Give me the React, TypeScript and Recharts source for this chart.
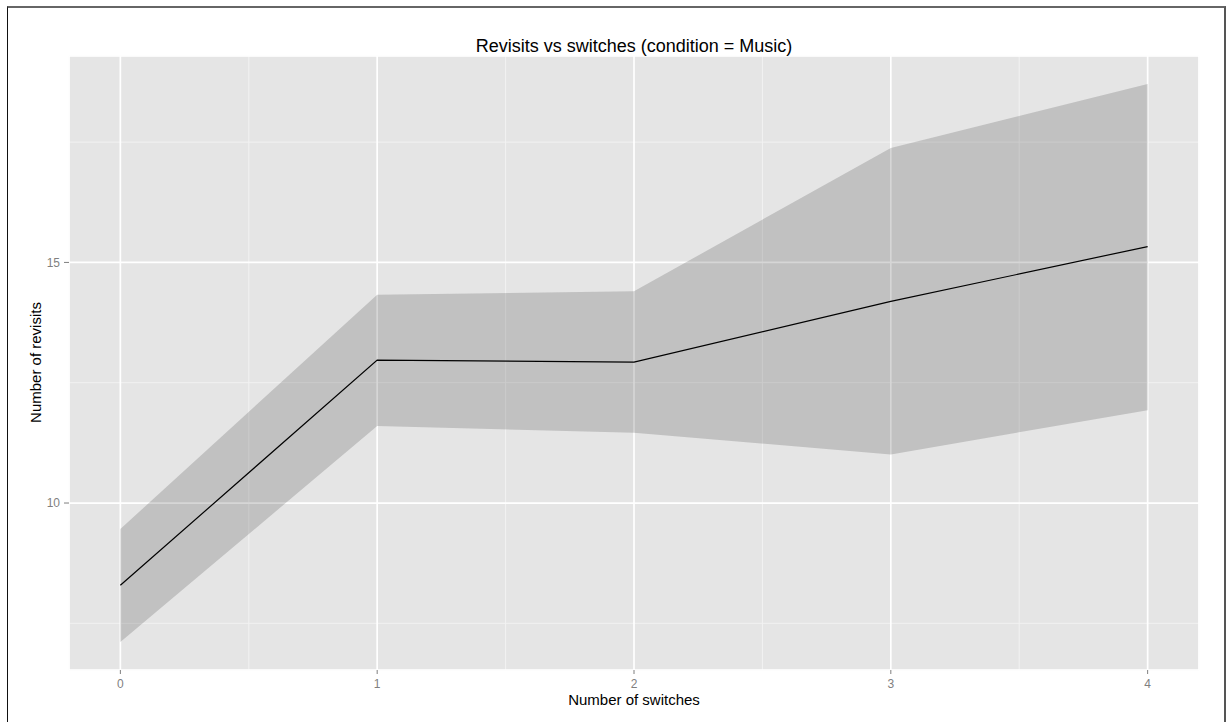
import { ComposedChart, Area, Line, XAxis, YAxis, CartesianGrid } from 'recharts'

// values
const switches = [0, 1, 2, 3, 4]
const meanRevisits = [8.29, 12.97, 12.93, 14.19, 15.33]
const lowerBand = [7.11, 11.6, 11.46, 11.01, 11.93]
const upperBand = [9.46, 14.33, 14.4, 17.38, 18.71]

const xTicks = [0, 1, 2, 3, 4]
const yTicks = [10, 15]
const xMinorTicks = [0.5, 1.5, 2.5, 3.5]
const yMinorTicks = [7.5, 12.5, 17.5]

const X_DOMAIN: [number, number] = [-0.2, 4.2]
const Y_DOMAIN: [number, number] = [6.53, 19.29]

const FONT = '"Liberation Sans", Arial, Helvetica, sans-serif'
const GREY = '#7F7F7F'

const data = switches.map((x, i) => ({
  x,
  mean: meanRevisits[i],
  band: [lowerBand[i], upperBand[i]],
}))

export default function App() {
  return (
    <div
      style={{
        position: 'absolute',
        left: 0,
        top: 0,
        width: 1226,
        height: 722,
        background: '#fff',
        fontFamily: FONT,
        overflow: 'hidden',
      }}
    >
      {/* outer frame */}
      <div
        style={{
          position: 'absolute',
          left: 7,
          top: 6,
          width: 1216,
          height: 730,
          borderTop: '2px solid #666',
          borderLeft: '1px solid #111',
          borderRight: '2px solid #555',
        }}
      />

      <div style={{ position: 'absolute', left: 0, top: 0 }}>
        <ComposedChart
          width={1226}
          height={722}
          data={data}
          margin={{ top: 56, right: 27, bottom: 22, left: 0 }}
        >
          {/* hidden axes that only feed the minor grid */}
          <XAxis xAxisId="minor" type="number" dataKey="x" domain={X_DOMAIN} ticks={xMinorTicks} hide />
          <YAxis yAxisId="minor" type="number" dataKey="mean" domain={Y_DOMAIN} ticks={yMinorTicks} hide />
          <CartesianGrid
            xAxisId="minor"
            yAxisId="minor"
            fill="#E5E5E5"
            stroke="#F2F2F2"
            strokeWidth={1}
          />
          <CartesianGrid stroke="#FFFFFF" strokeWidth={1.7} />
          <XAxis
            type="number"
            dataKey="x"
            domain={X_DOMAIN}
            ticks={xTicks}
            height={30}
            axisLine={false}
            tickSize={4}
            tickMargin={5}
            tickLine={{ stroke: GREY }}
            tick={{ fontSize: 12, fill: GREY, fontFamily: FONT }}
          />
          <YAxis
            type="number"
            domain={Y_DOMAIN}
            ticks={yTicks}
            width={69}
            axisLine={false}
            tickSize={5}
            tickMargin={4}
            tickLine={{ stroke: GREY }}
            tick={{ fontSize: 12, fill: GREY, fontFamily: FONT }}
          />
          <Area
            dataKey="band"
            type="linear"
            fill="#333333"
            fillOpacity={0.2}
            stroke="none"
            isAnimationActive={false}
          />
          <Line
            dataKey="mean"
            type="linear"
            stroke="#000"
            strokeWidth={1.2}
            dot={false}
            activeDot={false}
            isAnimationActive={false}
          />
        </ComposedChart>
      </div>

      <div
        style={{
          position: 'absolute',
          left: 69,
          width: 1130,
          top: 37,
          textAlign: 'center',
          fontSize: 18,
          lineHeight: '18px',
          color: '#000',
        }}
      >
        Revisits vs switches (condition = Music)
      </div>

      <div
        style={{
          position: 'absolute',
          left: 69,
          width: 1130,
          top: 692,
          textAlign: 'center',
          fontSize: 15,
          lineHeight: '15px',
          color: '#000',
        }}
      >
        Number of switches
      </div>

      <div
        style={{
          position: 'absolute',
          left: 35 - 150,
          top: 363 - 8,
          width: 300,
          textAlign: 'center',
          fontSize: 15,
          lineHeight: '15px',
          color: '#000',
          transform: 'rotate(-90deg)',
          transformOrigin: '150px 7.5px',
        }}
      >
        Number of revisits
      </div>
    </div>
  )
}
